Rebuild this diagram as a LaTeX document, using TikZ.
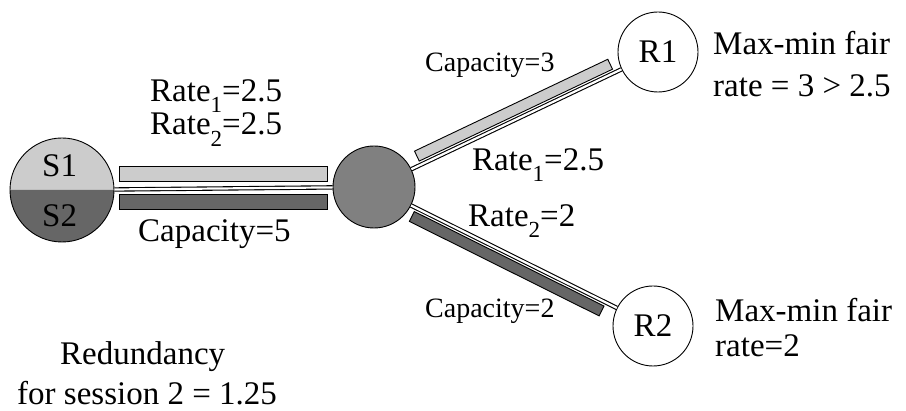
\documentclass[tikz,border=0pt]{standalone}
\usepackage{fontspec}
\setmainfont{Liberation Serif}
\usetikzlibrary{calc}
\definecolor{lightg}{HTML}{CCCCCC}
\definecolor{darkg}{HTML}{666666}
\definecolor{midg}{HTML}{808080}
\newcommand\lowsub[1]{\raisebox{-0.34em}{\fontsize{23}{23}\selectfont #1}}
\begin{document}
\begin{tikzpicture}[x=1pt,y=-1pt,
  big/.style={font=\fontsize{33}{38}\selectfont, inner sep=0pt, anchor=base west},
  small/.style={font=\fontsize{28}{32}\selectfont, inner sep=0pt, anchor=base west},
  router/.style={circle, draw, line width=0.9pt, inner sep=0pt},
  link/.style={draw=black, line width=1.1pt, double=white, double distance=2.2pt},
  bar/.style={draw=black, line width=0.9pt}]
\useasboundingbox (0,0) rectangle (906,411);
% nodes
\fill[lightg] (10,190) arc[start angle=180,end angle=360,radius=52] -- cycle;
\fill[darkg] (10,190) arc[start angle=180,end angle=0,radius=52] -- cycle;
\node[router, minimum size=104pt] (S) at (62,190) {};
\node[router, fill=midg, minimum size=82pt] (M) at (374,187) {};
\node[router, minimum size=80pt, font=\fontsize{33}{38}\selectfont] (R1) at (658,52) {R1};
\node[router, minimum size=80pt, font=\fontsize{33}{38}\selectfont] (R2) at (653,326) {R2};
\node[big] (s1) at (42,176.7) {S1};
\node[big] (s2) at (42,226.7) {S2};
% links
\draw[link] (S) -- (M);
\draw[link] (M) -- (R1);
\draw[link] (M) -- (R2);
% horizontal bars
\draw[bar, fill=lightg] (119,166.7) rectangle (327,181.7);
\draw[bar, fill=darkg] (119,194.3) rectangle (327,209);
% diagonal bars
\draw[bar, fill=lightg] ($(M)!52pt!(R1)!4pt!90:(R1)$) -- ($(M)!266pt!(R1)!4pt!90:(R1)$)
   -- ($(M)!266pt!(R1)!15pt!90:(R1)$) -- ($(M)!52pt!(R1)!15pt!90:(R1)$) -- cycle;
\draw[bar, fill=darkg] ($(M)!47pt!(R2)!4pt!-90:(R2)$) -- ($(M)!259pt!(R2)!4pt!-90:(R2)$)
   -- ($(M)!259pt!(R2)!15pt!-90:(R2)$) -- ($(M)!47pt!(R2)!15pt!-90:(R2)$) -- cycle;
% labels
\node[big] (r1a) at (150,101.7) {Rate\lowsub{1}=2.5};
\node[big] (r2a) at (150,135) {Rate\lowsub{2}=2.5};
\node[big] (c5) at (138,241.7) {Capacity=5};
\node[small] (c3) at (425,72) {Capacity=3};
\node[big] (r1b) at (472,170.7) {Rate\lowsub{1}=2.5};
\node[big] (r2b) at (468,226.7) {Rate\lowsub{2}=2};
\node[small] (c2) at (425,318) {Capacity=2};
\node[big] (m1) at (713,55) {Max-min fair};
\node[big] (m1b) at (713,96.7) {rate = 3 > 2.5};
\node[big] (m2) at (715,321.7) {Max-min fair};
\node[big] (m2b) at (715,356.7) {rate=2};
\node[big] (red1) at (60,365) {Redundancy};
\node[big] (red2) at (17,405) {for session 2 = 1.25};
\end{tikzpicture}
\end{document}
